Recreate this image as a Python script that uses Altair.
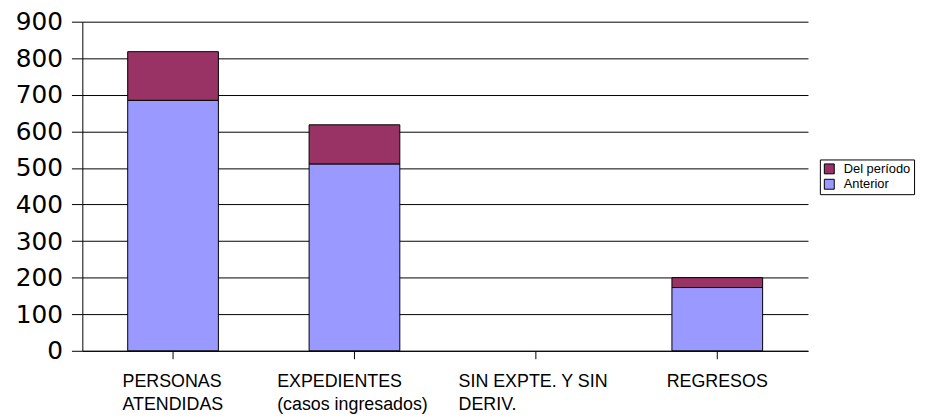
import altair as alt
import pandas as pd

categories = ["PERSONAS|ATENDIDAS", "EXPEDIENTES|(casos ingresados)", "SIN EXPTE. Y SIN|DERIV.", "REGRESOS"]
anterior = [685, 511, 0, 173]
del_periodo = [133, 107, 0, 27]
series = ["Del período", "Anterior"]
colors = ["#993366", "#9999FF"]

rows = []
for c, a, d in zip(categories, anterior, del_periodo):
    if a > 0:
        rows.append({"cat": c, "serie": "Anterior", "valor": a, "ord": 0})
    if d > 0:
        rows.append({"cat": c, "serie": "Del período", "valor": d, "ord": 1})
df = pd.DataFrame(rows)

# left-aligned multi-line labels, block centred under the tick
label_offset = {
    "condition": [
        {"test": f"datum.value == '{categories[0]}'", "value": -51},
        {"test": f"datum.value == '{categories[1]}'", "value": -78},
        {"test": f"datum.value == '{categories[2]}'", "value": -78},
    ],
    "value": -51,
}

chart = alt.Chart(df).mark_bar(stroke="black", strokeWidth=1).encode(
    x=alt.X("cat:N", sort=categories, title=None,
            scale=alt.Scale(domain=categories, paddingInner=0.5, paddingOuter=0.25),
            axis=alt.Axis(labelAngle=0, labelExpr="split(datum.label, '|')",
                          labelAlign="left", labelOffset=label_offset,
                          labelFontSize=18, labelLineHeight=23, labelFont="Liberation Sans",
                          labelColor="black", tickColor="black", tickSize=8,
                          domainColor="black", labelPadding=14, labelLimit=300)),
    y=alt.Y("valor:Q", stack="zero", title=None,
            scale=alt.Scale(domain=[0, 900], nice=False),
            axis=alt.Axis(values=list(range(0, 901, 100)), labelFontSize=25,
                          labelFont="DejaVu Sans", labelColor="black",
                          tickColor="black", tickSize=11, labelPadding=9,
                          domainColor="black", gridColor="black", gridWidth=1)),
    color=alt.Color("serie:N", title=None,
                    scale=alt.Scale(domain=series, range=colors),
                    legend=alt.Legend(orient="none", legendX=744, legendY=139,
                                      strokeColor="black", padding=3, fillColor="white",
                                      symbolType="square", symbolSize=100,
                                      symbolStrokeColor="black", symbolStrokeWidth=1,
                                      symbolOpacity=1, labelOffset=8,
                                      labelFontSize=13, labelFont="Liberation Sans",
                                      labelColor="black", rowPadding=0.5,
                                      cornerRadius=0)),
    order=alt.Order("ord:Q"),
).properties(
    width=732, height=332,
    padding={"left": 75, "top": 12, "right": 113, "bottom": 66},
    autosize="none",
).configure_view(stroke=None).configure_axis(grid=True).configure_axisX(grid=False)

chart.save("out.html", embed_options={"renderer": "svg", "actions": False})
